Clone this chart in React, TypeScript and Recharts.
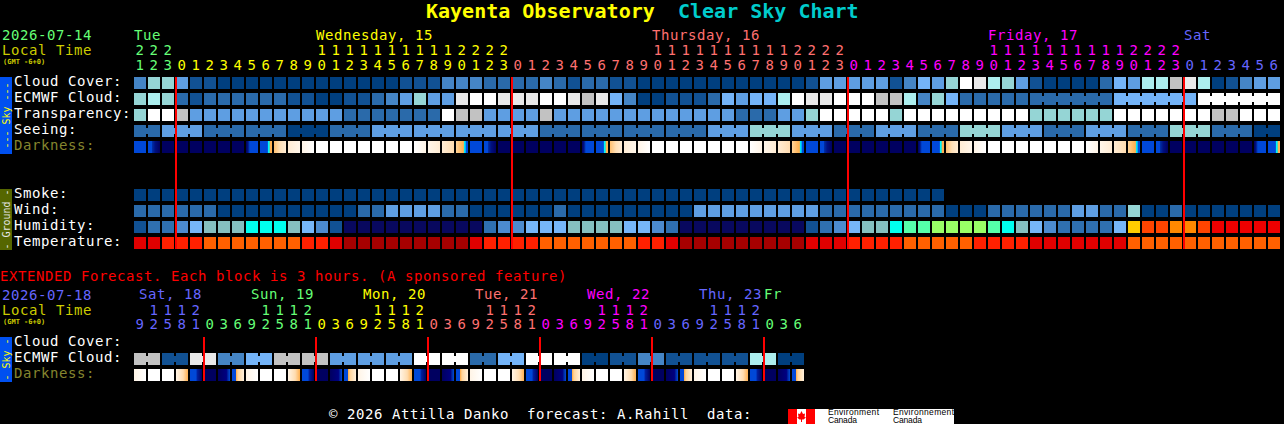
import { ScatterChart, Scatter, XAxis, YAxis, ReferenceLine } from 'recharts';

const MONO = '"DejaVu Sans Mono", monospace';

// sky scale shared by cloud, transparency, seeing, smoke, wind
const skyColors = ['#003f7f', '#115193', '#2a6aaa', '#4585c5', '#5e9ee2', '#74b4f8', '#95d5d5', '#aceeee', '#c2c2c2', '#e9e9e9', '#ffffff'];
const humidityColors = ['#08085e', '#115193', '#2f70b0', '#4c8bcf', '#76b6f8', '#85bfbf', '#00ffee', '#55ffaa', '#99ff66', '#ffcc00', '#ff8800', '#ff4400', '#ee0000'];
const temperatureColors = ['#a60000', '#e00000', '#ff2000', '#ff6000'];

// hard-edged gradient stops for each darkness stage, [offset%, colour]
const darknessStops: Array<Array<[number, string]>> = [
  [[0, '#000060'], [100, '#000060']],
  [[0, '#0048d8'], [100, '#0048d8']],
  [[0, '#0048d8'], [30, '#0048d8'], [34, '#0030a8'], [60, '#001080'], [100, '#000060']],
  [[0, '#000060'], [15, '#001080'], [25, '#0030a8'], [32, '#0048d8'], [100, '#0048d8']],
  [[0, '#0048d8'], [62, '#0048d8'], [67, '#00ffff'], [78, '#00e8e8'], [82, '#ffb050'], [100, '#ffb050']],
  [[0, '#ffc070'], [50, '#ffe0b8'], [100, '#ffecd4']],
  [[0, '#ffecd4'], [100, '#fff6ea']],
  [[0, '#fff4e6'], [100, '#ffffff']],
  [[0, '#ffffff'], [100, '#ffffff']],
  [[0, '#ffffff'], [100, '#fff4e6']],
  [[0, '#fff6ea'], [100, '#ffecd4']],
  [[0, '#ffecd4'], [100, '#ffdcb0']],
  [[0, '#ffd49a'], [45, '#ffb860'], [62, '#ffb050'], [67, '#00ffff'], [82, '#00a0f0'], [86, '#0048d8'], [100, '#0048d8']],
  [[0, '#fff4e6'], [60, '#ffdcb0'], [100, '#ffb050']],
  [[0, '#0048d8'], [50, '#0048d8'], [60, '#0020a0'], [100, '#000060']],
  [[0, '#000060'], [70, '#000080'], [85, '#0030a8'], [100, '#0048d8']],
  [[0, '#0048d8'], [30, '#0048d8'], [36, '#ffb050'], [50, '#ffd49a'], [100, '#fff0dc']],
];

const cloudCover = [
  3, 6, 6, 4, 1, 1, 0, 0, 0, 0,
  0, 0, 0, 0, 0, 0, 0, 0, 0, 1,
  1, 1, 3, 3, 3, 2, 2, 2, 2, 3,
  2, 1, 2, 2, 1, 1, 0, 0, 0, 0,
  0, 0, 0, 0, 0, 0, 0, 0, 1, 4,
  4, 4, 4, 4, 1, 3, 5, 4, 6, 10,
  9, 7, 6, 4, 1, 0, 0, 0, 0, 2,
  5, 4, 7, 7, 8, 9, 7, 0, 1, 3,
  4, 4,
];
const ecmwfCloud = [
  6, 7, 6, 2, 1, 2, 2, 2, 2, 2,
  2, 1, 1, 0, 0, 1, 1, 2, 3, 4,
  6, 4, 4, 9, 10, 10, 9, 9, 9, 10,
  10, 9, 8, 9, 5, 3, 0, 0, 1, 1,
  1, 2, 5, 4, 5, 5, 7, 10, 9, 9,
  10, 10, 10, 8, 8, 7, 3, 6, 5, 2,
  2, 2, 2, 2, 2, 2, 2, 2, 2, 2,
  5, 5, 5, 5, 5, 5, 10, 10, 10, 10,
  10, 10,
];
const transparency = [
  6, 10, 10, 8, 4, 4, 4, 4, 4, 4,
  4, 4, 4, 4, 4, 2, 2, 2, 2, 2,
  2, 2, 10, 8, 8, 4, 4, 4, 4, 8,
  4, 4, 4, 4, 4, 4, 4, 4, 4, 4,
  4, 4, 4, 2, 2, 2, 4, 4, 6, 10,
  10, 10, 10, 10, 6, 10, 10, 10, 10, 10,
  10, 10, 10, 10, 6, 6, 6, 6, 6, 6,
  10, 10, 10, 10, 10, 10, 10, 8, 8, 10,
  10, 10,
];
const seeing = [
  2, 2, 4, 4, 4, 2, 2, 2, 2, 2,
  2, 0, 0, 0, 2, 2, 2, 4, 4, 4,
  4, 4, 4, 4, 4, 4, 4, 4, 4, 2,
  2, 2, 2, 2, 2, 2, 2, 2, 2, 2,
  2, 4, 4, 4, 6, 6, 6, 4, 4, 4,
  2, 2, 2, 4, 4, 4, 2, 2, 2, 6,
  6, 6, 4, 4, 4, 2, 2, 2, 4, 4,
  4, 2, 2, 2, 6, 6, 6, 2, 2, 2,
  0, 0,
];
const darkness = [
  1, 2, 0, 0, 0, 0, 0, 0, 3, 4, 5, 6, 7, 8, 8, 8, 8, 8, 8, 8, 9, 10, 11, 12,
  1, 2, 0, 0, 0, 0, 0, 0, 3, 4, 5, 6, 7, 8, 8, 8, 8, 8, 8, 8, 9, 10, 11, 12,
  1, 2, 0, 0, 0, 0, 0, 0, 3, 4, 5, 6, 7, 8, 8, 8, 8, 8, 8, 8, 9, 10, 11, 12,
  1, 2, 0, 0, 0, 0, 0, 0, 3, 4,
];
const smoke = [
  0, 0, 0, 0, 0, 0, 0, 0, 0, 0,
  0, 0, 0, 0, 0, 0, 0, 0, 0, 0,
  0, 0, 0, 0, 0, 0, 0, 0, 0, 0,
  0, 0, 0, 0, 0, 0, 0, 0, 0, 0,
  0, 0, 0, 0, 0, 0, 0, 0, 0, 0,
  0, 0, 0, 0, 0, 0, 0, 0,
];
const wind = [
  2, 2, 2, 2, 2, 2, 0, 0, 0, 0,
  0, 0, 0, 0, 0, 0, 2, 2, 4, 4,
  4, 4, 2, 2, 0, 0, 0, 0, 0, 0,
  2, 0, 0, 0, 0, 0, 0, 0, 0, 0,
  4, 4, 4, 4, 4, 4, 4, 4, 4, 2,
  2, 2, 2, 2, 2, 2, 2, 2, 0, 0,
  0, 2, 2, 2, 2, 2, 2, 4, 4, 2,
  2, 6, 0, 0, 2, 0, 0, 0, 0, 0,
  0, 0,
];
const humidity = [
  1, 2, 2, 3, 4, 5, 5, 5, 6, 6,
  6, 5, 4, 3, 1, 0, 0, 0, 0, 0,
  0, 0, 0, 0, 0, 2, 3, 3, 4, 4,
  4, 5, 5, 5, 5, 4, 4, 3, 2, 0,
  0, 0, 0, 0, 0, 0, 0, 0, 1, 2,
  3, 4, 5, 5, 6, 7, 7, 8, 8, 8,
  8, 7, 6, 5, 4, 3, 2, 2, 2, 2,
  4, 9, 11, 11, 10, 10, 11, 12, 12, 12,
  12, 12,
];
const temperature = [
  1, 1, 2, 2, 2, 3, 3, 3, 3, 3,
  3, 3, 2, 2, 1, 0, 0, 0, 0, 0,
  0, 0, 0, 0, 1, 2, 2, 2, 2, 3,
  3, 3, 3, 3, 3, 3, 2, 2, 1, 0,
  0, 0, 0, 0, 0, 0, 0, 0, 1, 1,
  1, 2, 2, 2, 2, 3, 3, 3, 3, 3,
  2, 2, 2, 2, 1, 1, 1, 1, 1, 1,
  1, 3, 3, 3, 3, 3, 3, 3, 3, 3,
  3, 3,
];
const extEcmwf = [
  8, 8, 1, 1, 9, 9, 3, 3, 5, 5, 8, 8,
  8, 8, 4, 4, 4, 4, 4, 4, 10, 10, 10, 10,
  2, 2, 5, 5, 10, 10, 10, 10, 0, 0, 1, 1,
  3, 3, 1, 1, 1, 1, 1, 1, 7, 7, 0, 0,
];
const extDarkness = [
  7, 8, 8, 13, 14, 0, 15, 16,
  7, 8, 8, 13, 14, 0, 15, 16,
  7, 8, 8, 13, 14, 0, 15, 16,
  7, 8, 8, 13, 14, 0, 15, 16,
  7, 8, 8, 13, 14, 0, 15, 16,
  7, 8, 8, 13, 14, 0, 15, 16,
];

// forecast blocks: cells in one block are joined by a small bridge
const seeingBlocks = [2, 3, 3, 3, 3, 3, 3, 3, 3, 3, 3, 3, 3, 3, 3, 3, 3, 3, 3, 3, 3, 3, 3, 3, 3, 3, 3, 2];
const ecmwfJoined = [64, 65, 66, 67, 68, 70, 71, 72, 73, 74, 76, 77, 78, 79, 80];
const extBlocks = [2, 2, 2, 2, 2, 2, 2, 2, 2, 2, 2, 2, 2, 2, 2, 2, 2, 2, 2, 2, 2, 2, 2, 2];

const hours = [
  21, 22, 23,
  0, 1, 2, 3, 4, 5, 6, 7, 8, 9, 10, 11, 12, 13, 14, 15, 16, 17, 18, 19, 20, 21, 22, 23,
  0, 1, 2, 3, 4, 5, 6, 7, 8, 9, 10, 11, 12, 13, 14, 15, 16, 17, 18, 19, 20, 21, 22, 23,
  0, 1, 2, 3, 4, 5, 6, 7, 8, 9, 10, 11, 12, 13, 14, 15, 16, 17, 18, 19, 20, 21, 22, 23,
  0, 1, 2, 3, 4, 5, 6,
];
const extHours = [
  9, 12, 15, 18, 21,
  0, 3, 6, 9, 12, 15, 18, 21,
  0, 3, 6, 9, 12, 15, 18, 21,
  0, 3, 6, 9, 12, 15, 18, 21,
  0, 3, 6, 9, 12, 15, 18, 21,
  0, 3, 6, 9, 12, 15, 18, 21,
  0, 3, 6,
];
const GREEN = '#66ff77';
const YELLOW = '#ffff00';
const SALMON = '#ff7070';
const MAGENTA = '#ff00ff';
const BLUE = '#6666ff';
const dayColors = [GREEN, YELLOW, SALMON, MAGENTA, BLUE];
const midnights = [3, 27, 51, 75];
const dayLabels: Record<number, [string, number]> = { 0: ['Tue', 0], 13: ['Wednesday, 15', 1], 37: ['Thursday, 16', 2], 61: ['Friday, 17', 3], 75: ['Sat', 4] };
const extDayColors = [BLUE, GREEN, YELLOW, SALMON, MAGENTA, BLUE, GREEN];
const extMidnights = [5, 13, 21, 29, 37, 45];
const extDayLabels: Record<number, [string, number]> = { 0: ['Sat, 18', 0], 8: ['Sun, 19', 1], 16: ['Mon, 20', 2], 24: ['Tue, 21', 3], 32: ['Wed, 22', 4], 40: ['Thu, 23', 5], 45: ['Fr', 6] };

const skyRowLabels = ['Cloud Cover:', 'ECMWF Cloud:', 'Transparency:', 'Seeing:', 'Darkness:'];
const groundRowLabels = ['Smoke:', 'Wind:', 'Humidity:', 'Temperature:'];
const extRowLabels = ['Cloud Cover:', 'ECMWF Cloud:', 'Darkness:'];
const DARKNESS_LABEL = '#85852e';

function linksFromBlocks(blocks: number[]) {
  const links: number[] = [];
  let start = 0;
  blocks.forEach((len) => {
    for (let i = start; i < start + len - 1; i++) links.push(i);
    start += len;
  });
  return links;
}

function toRow(row: number, values: number[], links: number[] = []) {
  return values.map((level, col) => ({ col, row, level, linked: links.includes(col) }));
}

function columnIndexes(n: number) {
  return Array.from({ length: n }, (_, i) => i);
}

function solidCell(palette: string[]) {
  return (props: any) => {
    const { cx, cy, payload } = props;
    const fill = palette[payload.level];
    return (
      <g>
        <rect x={cx} y={cy} width={12} height={12} fill={fill} />
        {payload.linked && <rect x={cx + 12} y={cy + 3} width={2} height={6} fill={fill} />}
      </g>
    );
  };
}

function darkCell(props: any) {
  const { cx, cy, payload } = props;
  return <rect x={cx} y={cy} width={12} height={12} fill={`url(#dark${payload.level})`} />;
}

function DarknessDefs({ prefix }: { prefix: string }) {
  return (
    <defs>
      {darknessStops.map((stops, i) => (
        <linearGradient key={i} id={`${prefix}${i}`} x1="0" y1="0" x2="1" y2="0">
          {stops.map(([offset, color], j) => (
            <stop key={j} offset={`${offset}%`} stopColor={color} />
          ))}
        </linearGradient>
      ))}
    </defs>
  );
}

const textBase = { fontFamily: MONO, fontSize: 14, letterSpacing: 0.57 };

function hourTick(hourList: number[], colorOf: (c: number) => string, labels: Record<number, [string, number]>, palette: string[], rows: { day: number; tens: number; unit: number }, labelDx: (c: number) => number) {
  return (props: any) => {
    const col = props.payload.value;
    const x = props.x;
    const hour = hourList[col];
    const color = colorOf(col);
    const label = labels[col];
    return (
      <g style={textBase}>
        {label && (
          <text x={x + labelDx(col)} y={rows.day} fill={palette[label[1]]} textAnchor="start">
            {label[0]}
          </text>
        )}
        {hour >= 10 && (
          <text x={x + 6} y={rows.tens} fill={color} textAnchor="middle">
            {Math.floor(hour / 10)}
          </text>
        )}
        <text x={x + 6} y={rows.unit} fill={color} textAnchor="middle">
          {hour % 10}
        </text>
      </g>
    );
  };
}

function rowLabelTick(labelOf: (row: number) => string | undefined, colorOf: (label: string) => string, offset: number) {
  return (props: any) => {
    const row = props.payload.value;
    const label = labelOf(row);
    if (!label) return <g />;
    return (
      <text x={14} y={props.y + offset} fill={colorOf(label)} textAnchor="start" style={textBase}>
        {label}
      </text>
    );
  };
}

const labelColor = (l: string) => (l === 'Darkness:' ? DARKNESS_LABEL : '#ffffff');

const topRows = [
  { data: toRow(0, cloudCover), shape: solidCell(skyColors) },
  { data: toRow(1, ecmwfCloud, ecmwfJoined), shape: solidCell(skyColors) },
  { data: toRow(2, transparency), shape: solidCell(skyColors) },
  { data: toRow(3, seeing, linksFromBlocks(seeingBlocks)), shape: solidCell(skyColors) },
  { data: toRow(4, darkness), shape: darkCell },
  { data: toRow(7, smoke), shape: solidCell(skyColors) },
  { data: toRow(8, wind), shape: solidCell(skyColors) },
  { data: toRow(9, humidity), shape: solidCell(humidityColors) },
  { data: toRow(10, temperature), shape: solidCell(temperatureColors) },
];

function topDayColor(col: number) {
  if (col < 3) return dayColors[0];
  if (col < 27) return dayColors[1];
  if (col < 51) return dayColors[2];
  if (col < 75) return dayColors[3];
  return dayColors[4];
}

function extDayColor(col: number) {
  if (col < 5) return BLUE;
  if (col < 13) return GREEN;
  if (col < 21) return YELLOW;
  if (col < 29) return SALMON;
  if (col < 37) return MAGENTA;
  if (col < 45) return BLUE;
  return GREEN;
}

function TopChart() {
  const topLabels: Record<number, string> = {};
  skyRowLabels.forEach((l, i) => (topLabels[i] = l));
  groundRowLabels.forEach((l, i) => (topLabels[i + 7] = l));
  return (
    <ScatterChart width={1284} height={260} margin={{ top: 0, right: 2, bottom: 11, left: 0 }} style={{ position: 'absolute', left: 0, top: 0 }}>
      <DarknessDefs prefix="dark" />
      <XAxis
        type="number"
        dataKey="col"
        orientation="top"
        domain={[0, 82]}
        height={77}
        ticks={columnIndexes(82)}
        interval={0}
        axisLine={false}
        tickLine={false}
        tick={hourTick(hours, topDayColor, dayLabels, dayColors, { day: 40, tens: 55, unit: 70 }, () => 0)}
      />
      <YAxis
        type="number"
        dataKey="row"
        reversed
        domain={[0, 10.75]}
        width={134}
        ticks={[0, 1, 2, 3, 4, 7, 8, 9, 10]}
        interval={0}
        axisLine={false}
        tickLine={false}
        tick={rowLabelTick((r) => topLabels[r], labelColor, 9)}
      />
      {topRows.map((r) => (
        <Scatter key={r.data[0].row} data={r.data} shape={r.shape} isAnimationActive={false} />
      ))}
      {midnights.map((c) => (
        <ReferenceLine key={c} x={c} stroke="#ff0000" strokeWidth={2} zIndex={2000} />
      ))}
    </ScatterChart>
  );
}

function ExtChart() {
  return (
    <ScatterChart width={1284} height={162} margin={{ top: 0, right: 2, bottom: 43, left: 0 }} style={{ position: 'absolute', left: 0, top: 262 }}>
      <XAxis
        type="number"
        dataKey="col"
        orientation="top"
        domain={[0, 82]}
        height={75}
        ticks={columnIndexes(48)}
        interval={0}
        axisLine={false}
        tickLine={false}
        tick={hourTick(extHours, extDayColor, extDayLabels, extDayColors, { day: 37, tens: 53, unit: 67 }, (c) => (c === 45 ? 0 : 5))}
      />
      <YAxis
        type="number"
        dataKey="row"
        reversed
        domain={[0, 2.75]}
        width={134}
        ticks={[0, 1, 2]}
        interval={0}
        axisLine={false}
        tickLine={false}
        tick={rowLabelTick((r) => extRowLabels[r], labelColor, 9)}
      />
      <Scatter data={toRow(1, extEcmwf, linksFromBlocks(extBlocks))} shape={solidCell(skyColors)} isAnimationActive={false} />
      <Scatter data={toRow(2, extDarkness)} shape={darkCell} isAnimationActive={false} />
      {extMidnights.map((c) => (
        <ReferenceLine key={c} x={c} stroke="#ff0000" strokeWidth={2} zIndex={2000} />
      ))}
    </ScatterChart>
  );
}

function SideBar({ y, h, fill, text, color }: { y: number; h: number; fill: string; text: string; color: string }) {
  const mid = y + h / 2;
  return (
    <g>
      <rect x={0} y={y} width={12} height={h} fill={fill} />
      <text x={6} y={mid} fill={color} fontFamily={MONO} fontSize={10} textAnchor="middle" dominantBaseline="central" transform={`rotate(-90 6 ${mid})`}>
        {text}
      </text>
    </g>
  );
}

function Overlay() {
  return (
    <svg width={1284} height={424} style={{ position: 'absolute', left: 0, top: 0, pointerEvents: 'none' }}>
      <g fontFamily={MONO} fontSize={20} fontWeight="bold">
        <text x={426} y={18} fill="#ffff00">Kayenta Observatory</text>
        <text x={678} y={18} fill="#00cccc">Clear Sky Chart</text>
      </g>
      <g fontFamily={MONO} fontSize={14} letterSpacing={0.57}>
        <text x={2} y={40} fill={GREEN}>2026-07-14</text>
        <text x={2} y={55} fill="#cccc00">Local Time</text>
        <text x={0} y={281} fill="#ff0000">EXTENDED Forecast. Each block is 3 hours. (A sponsored feature)</text>
        <text x={2} y={300} fill={BLUE}>2026-07-18</text>
        <text x={2} y={315} fill="#cccc00">Local Time</text>
        <text x={329} y={419} fill="#ffffff" xmlSpace="preserve">© 2026 Attilla Danko  forecast: A.Rahill  data:</text>
      </g>
      <g fontFamily={MONO} fontSize={7} fontWeight="bold" fill="#cccc00">
        <text x={3} y={64}>(GMT -6+0)</text>
        <text x={3} y={324}>(GMT -6+0)</text>
      </g>
      <SideBar y={77} h={77} fill="#0050f0" text="--- Sky ---" color="#ffff00" />
      <SideBar y={189} h={61} fill="#556600" text="- Ground -" color="#e6e6e6" />
      <SideBar y={337} h={45} fill="#0050f0" text="- Sky -" color="#ffff00" />
      <rect x={788} y={409} width={166} height={15} fill="#ffffff" />
      <rect x={788} y={409} width={9} height={15} fill="#ff0000" />
      <rect x={806} y={409} width={9} height={15} fill="#ff0000" />
      <path d="M801.5 411 L803 414 L805 413.5 L804.5 417 L806 417.5 L803.5 419.5 L802 419.5 L802 422 L801 422 L801 419.5 L799.5 419.5 L797 417.5 L798.5 417 L798 413.5 L800 414 Z" fill="#ff0000" />
      <g fontFamily='"Liberation Sans", sans-serif' fontSize={8.5} fill="#000000">
        <text x={828} y={415} textLength={51}>Environment</text>
        <text x={828} y={423} textLength={29}>Canada</text>
        <text x={893} y={415} textLength={61}>Environnement</text>
        <text x={893} y={423} textLength={29}>Canada</text>
      </g>
    </svg>
  );
}

export default function App() {
  return (
    <div style={{ position: 'absolute', left: 0, top: 0, width: 1284, height: 424, background: '#000000', overflow: 'hidden' }}>
      <TopChart />
      <ExtChart />
      <Overlay />
    </div>
  );
}
